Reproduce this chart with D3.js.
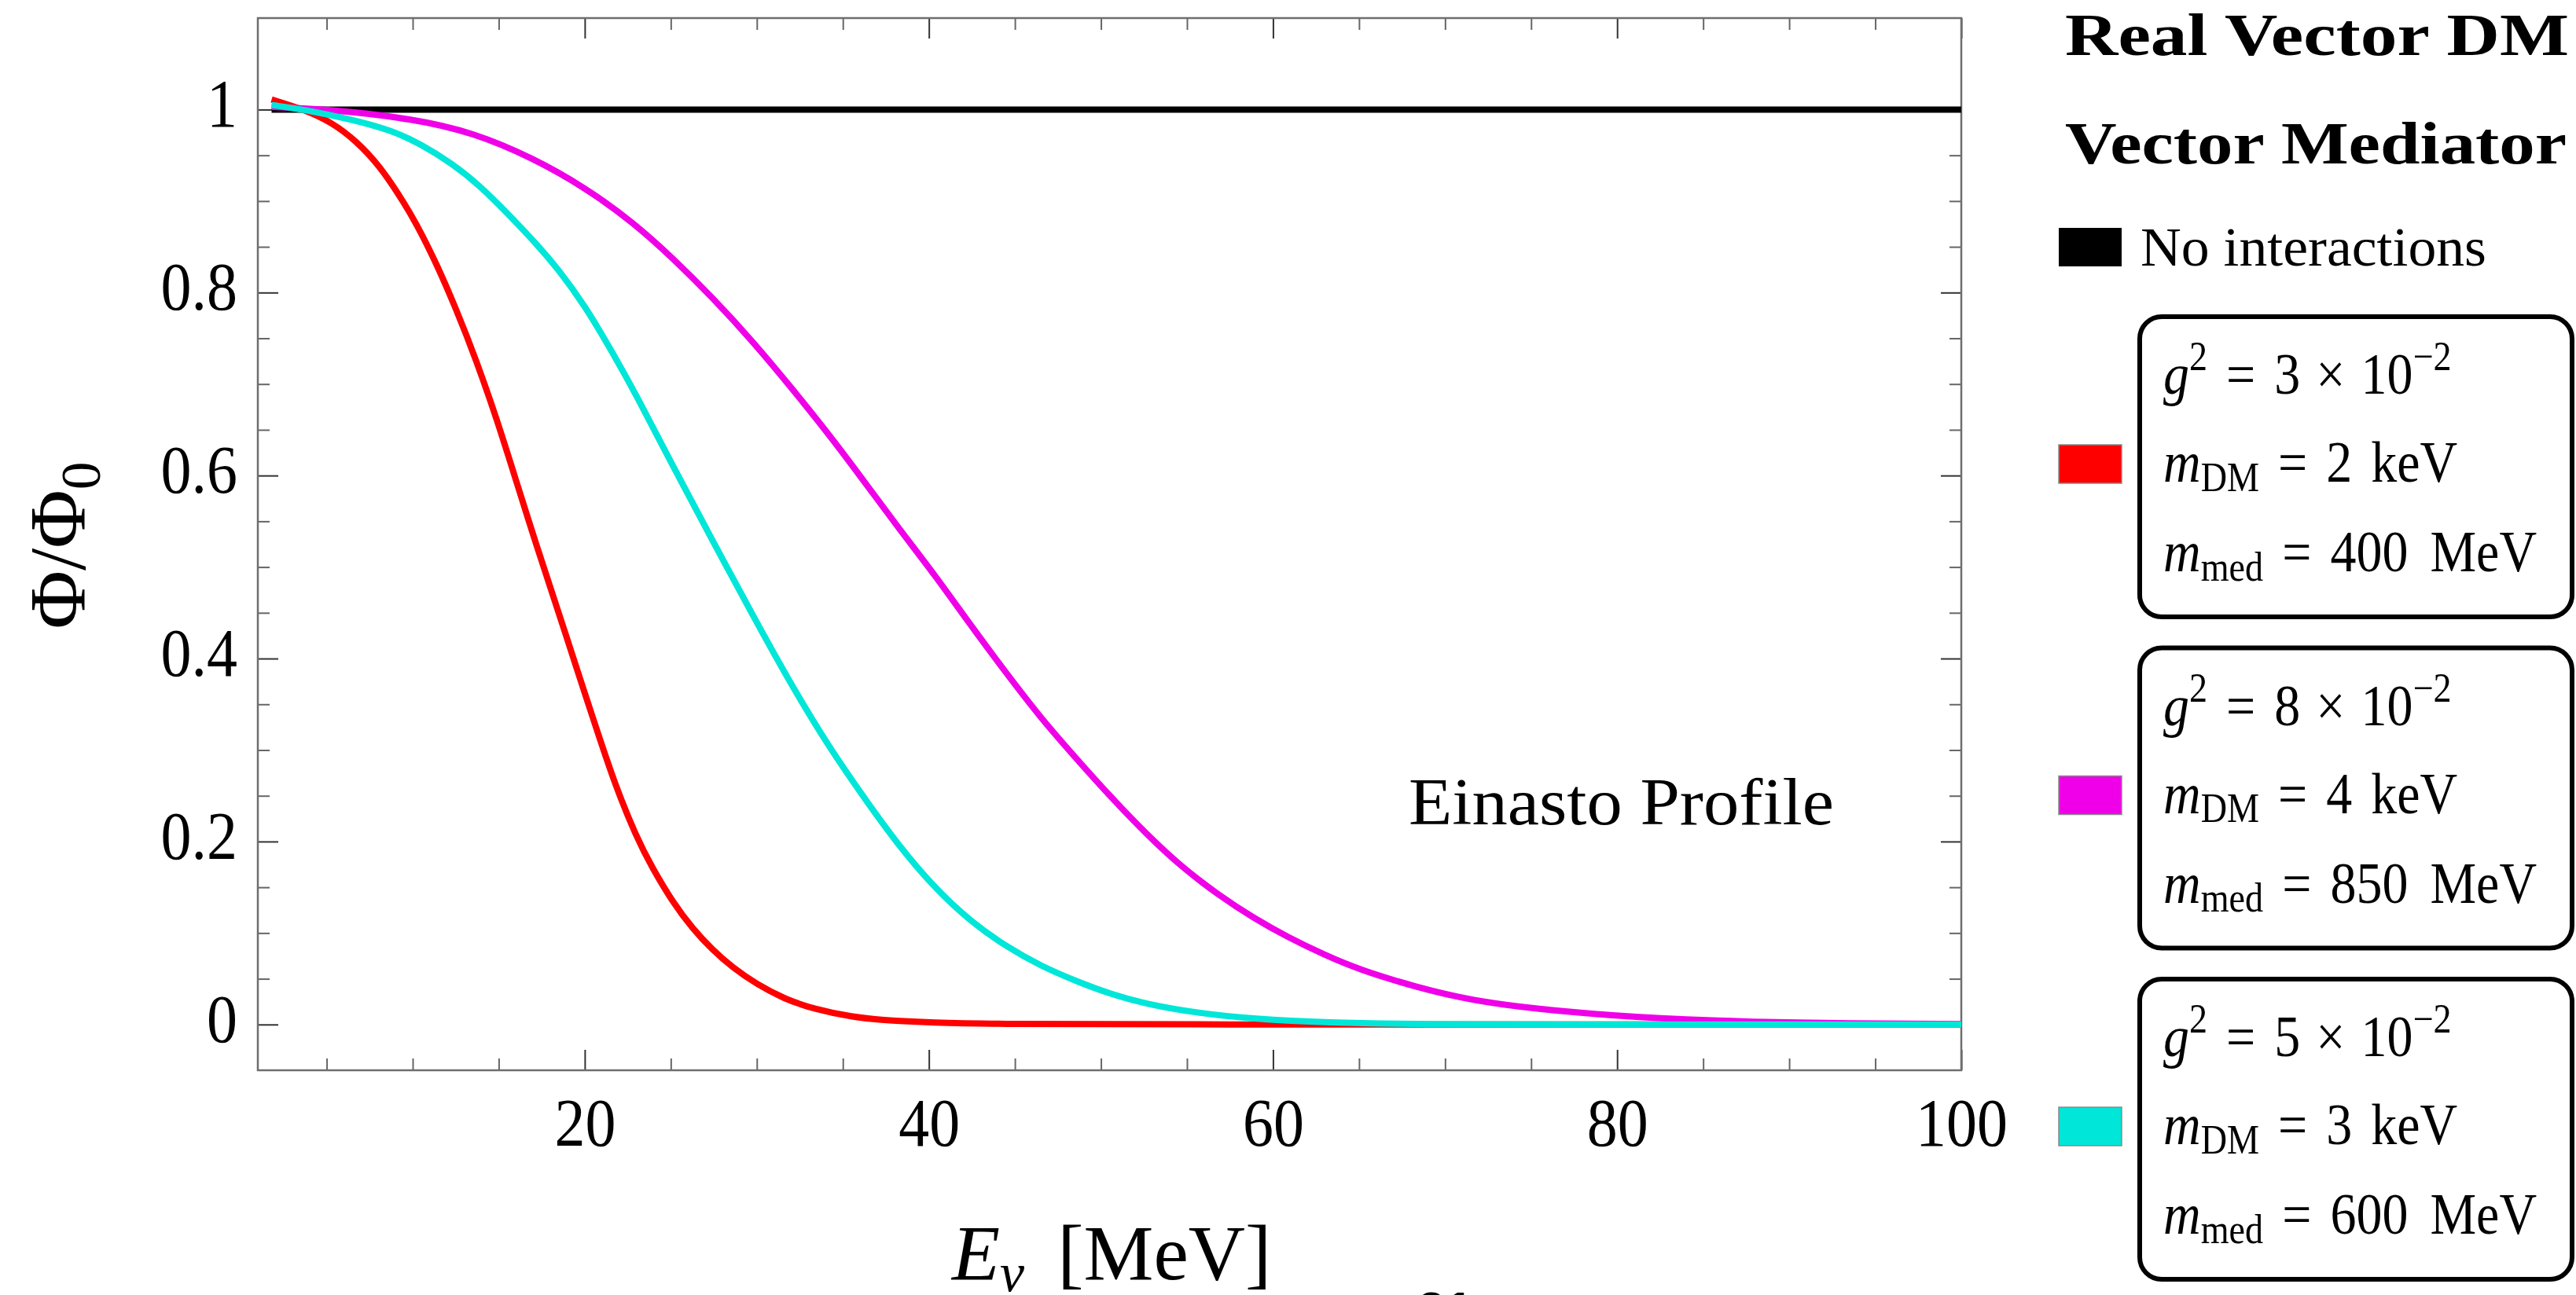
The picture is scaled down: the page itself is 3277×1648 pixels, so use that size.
<!DOCTYPE html>
<html>
<head>
<meta charset="utf-8">
<script src="https://cdnjs.cloudflare.com/ajax/libs/d3/7.8.5/d3.min.js"></script>
<style>
  body { margin: 0; background: #fff; }
  svg { display: block; font-family: "Liberation Serif", "Times New Roman", serif; }
</style>
</head>
<body>
<div id="chart"></div>
<script>
// values (E in MeV, flux ratio)
var noIntE    = [1.8, 100]
var noIntFlux = [1, 1]

var redE    = [1.8, 3.7, 5.3, 6.7, 8.1, 9.3, 10.2, 11.4, 12.5, 13.7, 14.9, 16.0, 17.2, 18.4, 19.5, 20.7, 21.8, 23.0, 23.9, 25.1, 26.3, 27.4, 28.6, 30.0, 31.6, 33.3, 35.6, 37.2, 40, 45, 50, 100]
var redFlux = [1.011, 1.0, 0.986, 0.966, 0.938, 0.904, 0.876, 0.831, 0.783, 0.726, 0.661, 0.595, 0.523, 0.455, 0.391, 0.322, 0.260, 0.205, 0.172, 0.134, 0.104, 0.082, 0.062, 0.044, 0.028, 0.017, 0.008, 0.005, 0.002, 0.0005, 0, 0]

var magE    = [1.8, 5.3, 10.0, 13.5, 17.0, 20.0, 22.8, 25.1, 27.4, 29.8, 32.1, 34.4, 36.3, 38.3, 40.4, 42.4, 44.5, 46.5, 48.6, 50.6, 52.7, 54.7, 56.8, 58.9, 60.9, 63.0, 65.0, 68.3, 71.6, 75.3, 79.4, 85.5, 91.7, 100]
var magFlux = [1.003, 1.0, 0.99, 0.975, 0.947, 0.915, 0.877, 0.838, 0.795, 0.746, 0.694, 0.640, 0.592, 0.541, 0.490, 0.437, 0.384, 0.335, 0.290, 0.248, 0.207, 0.172, 0.142, 0.116, 0.095, 0.076, 0.060, 0.041, 0.026, 0.017, 0.010, 0.004, 0.0014, 0.0005]

var cyanE    = [1.8, 3.7, 6.5, 8.8, 10.4, 12.3, 13.9, 15.8, 17.2, 18.4, 20.0, 21.6, 23.0, 25.1, 27.4, 29.8, 32.1, 34.2, 36.3, 38.3, 40.4, 42.4, 44.5, 46.5, 48.6, 50.6, 52.7, 55.6, 58.9, 63.0, 69, 75, 100]
var cyanFlux = [1.005, 1.0, 0.989, 0.977, 0.963, 0.941, 0.917, 0.881, 0.853, 0.827, 0.786, 0.735, 0.688, 0.611, 0.530, 0.446, 0.368, 0.303, 0.246, 0.194, 0.148, 0.113, 0.085, 0.064, 0.047, 0.033, 0.022, 0.0125, 0.006, 0.002, 0.0003, 0, 0]

var xTicks = [20, 40, 60, 80, 100]
var yTicks = [0, 0.2, 0.4, 0.6, 0.8, 1]

var legendColors = ['#ff0000', '#f000e8', '#00e6d8']
var legendG2     = ['3', '8', '5']
var legendMdm    = ['2', '4', '3']
var legendMmed   = ['400', '850', '600']

var W = 3277, H = 1648
var plot = {left: 328, right: 2495, top: 23, bottom: 1362}

var svg = d3.select('#chart').append('svg')
    .attr('width', W)
    .attr('height', H)

var x = d3.scaleLinear().domain([1, 100]).range([plot.left, plot.right])
var y = d3.scaleLinear().domain([-0.05, 1.1]).range([plot.bottom, plot.top])

// text helper: parts = [{t, it, sub, sup, dx}]
function addText(parent, px, py, parts, o) {
    var fs = o.size
    var tr = 'translate(' + px + ',' + py + ')'
    if (o.rotate) tr += ' rotate(' + o.rotate + ')'
    if (o.sx || o.sy) tr += ' scale(' + (o.sx || 1) + ',' + (o.sy || 1) + ')'
    var t = parent.append('text')
        .attr('transform', tr)
        .attr('font-size', fs)
        .attr('font-weight', o.bold ? 'bold' : null)
        .attr('font-family', o.family || null)
        .attr('text-anchor', o.anchor || 'start')
        .attr('fill', '#000')
    var shift = 0
    parts.forEach(function(p) {
        var off = p.sup ? -0.4 * fs : p.sub ? (p.sub === true ? 0.16 : p.sub) * fs : 0
        var s = t.append('tspan').text(p.t)
        if (off - shift !== 0) s.attr('dy', off - shift)
        if (p.sup || p.sub) s.attr('font-size', fs * 0.7)
        if (p.it) s.attr('font-style', 'italic')
        if (p.dx) s.attr('dx', p.dx)
        shift = off
    })
    if (o.len) t.attr('textLength', o.len).attr('lengthAdjust', 'spacingAndGlyphs')
    return t
}

svg.append('clipPath').attr('id', 'clip')
    .append('rect')
    .attr('x', plot.left).attr('y', plot.top)
    .attr('width', plot.right - plot.left).attr('height', plot.bottom - plot.top)

// ticks, all four sides, pointing inward
var xMinor = d3.range(5, 100, 5).filter(function(v) { return v % 20 !== 0 })
var yMinor = d3.range(1, 20).map(function(i) { return i * 0.05 }).filter(function(v, i) { return (i + 1) % 4 !== 0 })

function tickStyle(g, col) {
    g.select('.domain').remove()
    g.selectAll('.tick line').attr('stroke', col).attr('stroke-width', 2)
}

svg.append('g').attr('transform', 'translate(0,' + plot.bottom + ')')
    .call(d3.axisBottom(x).tickValues(xMinor).tickSize(-15).tickFormat(''))
    .call(tickStyle, '#666')
svg.append('g').attr('transform', 'translate(0,' + plot.top + ')')
    .call(d3.axisTop(x).tickValues(xMinor).tickSize(-15).tickFormat(''))
    .call(tickStyle, '#666')
svg.append('g').attr('transform', 'translate(0,' + plot.top + ')')
    .call(d3.axisTop(x).tickValues(xTicks).tickSize(-26).tickFormat(''))
    .call(tickStyle, '#333')
svg.append('g').attr('transform', 'translate(' + plot.left + ',0)')
    .call(d3.axisLeft(y).tickValues(yMinor).tickSize(-15).tickFormat(''))
    .call(tickStyle, '#666')
svg.append('g').attr('transform', 'translate(' + plot.right + ',0)')
    .call(d3.axisRight(y).tickValues(yMinor).tickSize(-15).tickFormat(''))
    .call(tickStyle, '#666')
svg.append('g').attr('transform', 'translate(' + plot.right + ',0)')
    .call(d3.axisRight(y).tickValues(yTicks).tickSize(-26).tickFormat(''))
    .call(tickStyle, '#333')

var xAxis = svg.append('g').attr('transform', 'translate(0,' + plot.bottom + ')')
    .call(d3.axisBottom(x).tickValues(xTicks).tickSize(-26).tickFormat(d3.format('d')))
    .call(tickStyle, '#333')
xAxis.selectAll('.tick text')
    .attr('font-size', 78)
    .attr('fill', '#000')
    .attr('y', 86).attr('dy', null)
    .attr('transform', 'scale(1,1.12)')
xAxis.attr('font-family', null).attr('font-size', null)

var yAxis = svg.append('g').attr('transform', 'translate(' + plot.left + ',0)')
    .call(d3.axisLeft(y).tickValues(yTicks).tickSize(-26).tickFormat(d3.format('~g')))
    .call(tickStyle, '#333')
yAxis.selectAll('.tick text')
    .attr('font-size', 78)
    .attr('fill', '#000')
    .attr('x', -26).attr('dy', null).attr('y', 19)
    .attr('transform', 'scale(1,1.12)')
yAxis.attr('font-family', null).attr('font-size', null)

// frame
svg.append('rect')
    .attr('x', plot.left).attr('y', plot.top)
    .attr('width', plot.right - plot.left).attr('height', plot.bottom - plot.top)
    .attr('fill', 'none').attr('stroke', '#6e6e6e').attr('stroke-width', 2.5)

// curves
var series = [
    {e: noIntE, f: noIntFlux, col: '#000000'},
    {e: redE, f: redFlux, col: legendColors[0]},
    {e: magE, f: magFlux, col: legendColors[1]},
    {e: cyanE, f: cyanFlux, col: legendColors[2]}
]

var line = d3.line()
    .x(function(d) { return x(d[0]) })
    .y(function(d) { return y(d[1]) })
    .curve(d3.curveBasis)

svg.append('g').attr('clip-path', 'url(#clip)')
    .selectAll('path')
    .data(series)
    .join('path')
    .attr('d', function(s) { return line(s.e.map(function(v, i) { return [v, s.f[i]] })) })
    .attr('fill', 'none')
    .attr('stroke', function(s) { return s.col })
    .attr('stroke-width', 8)
    .attr('stroke-linejoin', 'round')

// axis labels
addText(svg, 108, 694, [{t: 'Φ/Φ'}, {t: '0', sub: 0.19}], {size: 102, rotate: -90, anchor: 'middle'})
addText(svg, 1211, 1628, [{t: 'E', it: true}, {t: 'ν', it: true, sub: 0.15}, {t: '[MeV]', dx: 42}], {size: 100})
addText(svg, 1792, 1049, [{t: 'Einasto Profile'}], {size: 84, len: 541})

// page number peeking in at the bottom edge
addText(svg, 1803, 1690, [{t: '21'}], {size: 64, bold: true, family: '"Liberation Sans", Arial, sans-serif'})

// legend
var leg = svg.append('g')
addText(leg, 2627, 70, [{t: 'Real Vector DM'}], {size: 76, bold: true, len: 641})
addText(leg, 2627, 208, [{t: 'Vector Mediator'}], {size: 76, bold: true, len: 638})

leg.append('rect')
    .attr('x', 2619).attr('y', 290).attr('width', 80).attr('height', 49)
    .attr('fill', '#000')
addText(leg, 2723, 338, [{t: 'No interactions'}], {size: 70, len: 440})

legendColors.forEach(function(col, i) {
    var top = 403 + i * 421.5
    leg.append('rect')
        .attr('x', 2619).attr('y', top + 163).attr('width', 80).attr('height', 49)
        .attr('fill', col).attr('stroke', '#8a8a8a').attr('stroke-width', 1.5)
    leg.append('rect')
        .attr('x', 2722).attr('y', top).attr('width', 550).attr('height', 382)
        .attr('rx', 28).attr('ry', 28)
        .attr('fill', 'none').attr('stroke', '#000').attr('stroke-width', 6)

    var opt = {size: 66, sy: 1.12}
    addText(leg, 2752, top + 98, [
        {t: 'g', it: true}, {t: '2', sup: true},
        {t: '=', dx: 24}, {t: legendG2[i], dx: 24},
        {t: '×', dx: 20}, {t: '10', dx: 20}, {t: '−2', sup: true}
    ], opt)
    addText(leg, 2752, top + 210, [
        {t: 'm', it: true}, {t: 'DM', sub: true},
        {t: '=', dx: 24}, {t: legendMdm[i], dx: 24},
        {t: 'keV', dx: 24}
    ], opt)
    addText(leg, 2752, top + 324, [
        {t: 'm', it: true}, {t: 'med', sub: true},
        {t: '=', dx: 24}, {t: legendMmed[i], dx: 24},
        {t: 'MeV', dx: 28}
    ], opt)
})
</script>
</body>
</html>
